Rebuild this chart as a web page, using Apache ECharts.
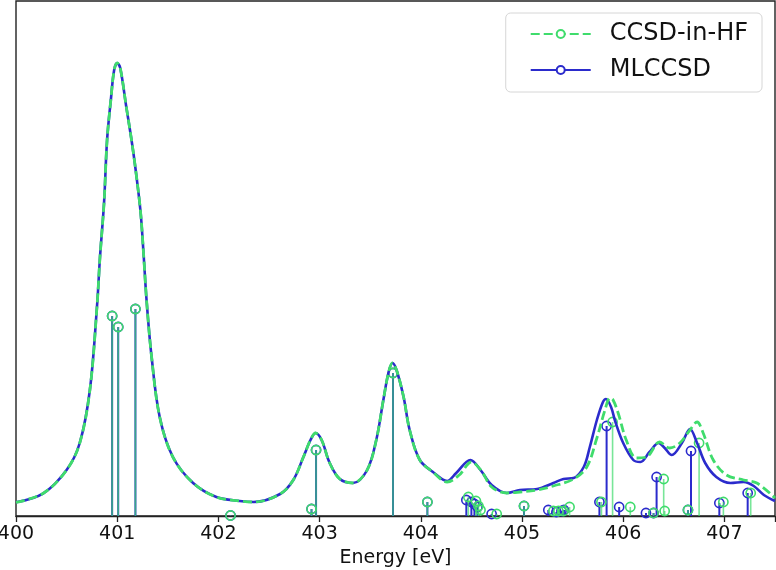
<!DOCTYPE html>
<html>
<head>
<meta charset="utf-8">
<script src="https://cdn.jsdelivr.net/npm/echarts@6/dist/echarts.min.js"></script>
<style>
html,body{margin:0;padding:0;background:#fff;}
#chart{width:776px;height:570px;}
</style>
</head>
<body>
<div id="chart"></div>
<script>
// ---- data (intensities in arbitrary units) ----
const xTicks = [400, 401, 402, 403, 404, 405, 406, 407];

// MLCCSD broadened spectrum
const mlEnergy = [400.00,400.27,400.50,400.63,400.73,400.80,400.83,400.87,400.90,400.94,400.97,401.00,401.03,401.09,401.14,401.18,401.23,401.26,401.29,401.34,401.42,401.55,401.75,401.98,402.21,402.35,402.61,402.74,402.84,402.91,402.96,403.02,403.10,403.20,403.33,403.47,403.56,403.63,403.68,403.72,403.76,403.83,403.89,403.99,404.12,404.26,404.35,404.49,404.59,404.70,404.85,404.98,405.15,405.31,405.41,405.51,405.61,405.67,405.74,405.80,405.83,405.88,405.92,406.00,406.10,406.17,406.26,406.35,406.41,406.48,406.58,406.66,406.73,406.81,406.92,407.06,407.19,407.29,407.39,407.50];
const mlCurve = [0.137,0.227,0.46,0.73,1.26,2.09,2.59,3.13,3.76,4.19,4.46,4.53,4.48,4.09,3.77,3.48,3.05,2.63,2.16,1.59,0.99,0.59,0.33,0.19,0.15,0.14,0.22,0.36,0.59,0.76,0.83,0.76,0.53,0.37,0.33,0.46,0.76,1.16,1.43,1.53,1.46,1.19,0.86,0.56,0.44,0.35,0.43,0.56,0.46,0.31,0.23,0.26,0.27,0.33,0.37,0.38,0.49,0.69,0.96,1.14,1.17,1.09,0.95,0.73,0.56,0.54,0.64,0.73,0.68,0.61,0.73,0.87,0.73,0.53,0.39,0.33,0.34,0.30,0.21,0.15];

// CCSD-in-HF broadened spectrum
const hfEnergy = [400.00,400.27,400.50,400.63,400.73,400.80,400.83,400.87,400.90,400.94,400.97,401.00,401.03,401.09,401.14,401.18,401.23,401.26,401.29,401.34,401.42,401.55,401.75,401.98,402.21,402.35,402.61,402.74,402.84,402.91,402.96,403.02,403.10,403.20,403.33,403.47,403.56,403.63,403.68,403.72,403.76,403.83,403.89,403.99,404.12,404.26,404.38,404.50,404.60,404.70,404.85,404.98,405.15,405.31,405.51,405.64,405.74,405.82,405.87,405.90,405.95,406.03,406.13,406.23,406.36,406.46,406.56,406.66,406.73,406.79,406.89,407.02,407.19,407.32,407.50];
const hfCurve = [0.137,0.227,0.46,0.73,1.26,2.09,2.59,3.13,3.76,4.19,4.46,4.53,4.48,4.09,3.77,3.48,3.05,2.63,2.16,1.59,0.99,0.59,0.33,0.19,0.15,0.14,0.22,0.36,0.59,0.76,0.83,0.76,0.53,0.37,0.33,0.46,0.76,1.16,1.43,1.53,1.46,1.19,0.86,0.56,0.44,0.34,0.41,0.54,0.45,0.29,0.23,0.24,0.26,0.30,0.37,0.49,0.78,1.06,1.18,1.16,1.03,0.76,0.58,0.59,0.74,0.68,0.73,0.86,0.94,0.83,0.56,0.41,0.36,0.33,0.18];

// MLCCSD stick spectrum
const mlStickE = [400.95,401.01,401.18,402.12,402.92,402.965,403.725,404.065,404.45,404.50,404.53,404.56,404.70,405.02,405.26,405.34,405.39,405.415,405.765,405.836,405.96,406.225,406.30,406.33,406.64,406.67,406.95,407.23];
const mlStickI = [2.00,1.89,2.07,0.005,0.07,0.66,1.43,0.14,0.16,0.14,0.12,0.09,0.02,0.10,0.06,0.04,0.05,0.06,0.14,0.90,0.09,0.03,0.03,0.39,0.06,0.65,0.13,0.23];

// CCSD-in-HF stick spectrum
const hfStickE = [400.95,401.01,401.18,402.12,402.92,402.965,403.725,404.065,404.47,404.545,404.57,404.59,404.75,405.02,405.31,405.36,405.41,405.47,405.785,405.895,406.07,406.30,406.40,406.41,406.64,406.75,406.99,407.26];
const hfStickI = [2.00,1.89,2.07,0.005,0.07,0.66,1.43,0.14,0.19,0.15,0.10,0.06,0.02,0.10,0.05,0.05,0.05,0.09,0.14,0.94,0.09,0.03,0.37,0.05,0.06,0.73,0.14,0.23];

const seriesNames = ['CCSD-in-HF', 'MLCCSD'];
// ---- end data ----

const GREEN = '#3fdc6c';
const BLUE = '#2b2bcc';
const FONT = 'DejaVu Sans';

function zip(a, b) { return a.map((v, i) => [v, b[i]]); }

function stickRenderer(color, stemWidth, stemOpacity) {
  return function (params, api) {
    const x = api.value(0), y = api.value(1);
    const p0 = api.coord([x, 0]);
    const p1 = api.coord([x, y]);
    return {
      type: 'group',
      children: [
        { type: 'line', shape: { x1: p0[0], y1: p0[1], x2: p1[0], y2: p1[1] },
          style: { stroke: color, lineWidth: stemWidth, opacity: stemOpacity } },
        { type: 'circle', shape: { cx: p1[0], cy: p1[1], r: 4.6 },
          style: { fill: 'none', stroke: color, lineWidth: 1.6 } }
      ]
    };
  };
}

const chart = echarts.init(document.getElementById('chart'), null, { renderer: 'canvas' });
chart.setOption({
  animation: false,
  backgroundColor: '#fff',
  grid: { left: 16, right: 1, top: 1, bottom: 54, containLabel: false, outerBoundsMode: 'none',
    show: true, borderColor: '#222', borderWidth: 1.4, backgroundColor: 'transparent' },
  xAxis: {
    type: 'value', min: 400, max: 407.5, interval: 1,
    name: 'Energy [eV]', nameLocation: 'middle', nameGap: 31,
    nameTextStyle: { fontFamily: FONT, fontSize: 19, color: '#111' },
    axisLine: { show: true, onZero: false, lineStyle: { color: '#222', width: 1.4 } },
    axisTick: { show: true, length: 6, lineStyle: { color: '#222', width: 1.3 } },
    axisLabel: { fontFamily: FONT, fontSize: 19, color: '#111', margin: 9,
      formatter: v => xTicks.indexOf(v) >= 0 ? String(v) : '' },
    splitLine: { show: false }
  },
  yAxis: {
    type: 'value', min: 0, max: 5.15,
    axisLine: { show: false }, axisTick: { show: false }, axisLabel: { show: false }, splitLine: { show: false }
  },
  legend: {
    orient: 'vertical', right: 14, top: 13,
    data: seriesNames,
    itemWidth: 60, itemHeight: 10, itemGap: 12,
    padding: [9, 14, 10, 24],
    backgroundColor: 'rgba(255,255,255,0.85)', borderColor: '#d6d6d6', borderWidth: 1, borderRadius: 5,
    textStyle: { fontFamily: FONT, fontSize: 24, color: '#111', padding: [0, 0, 0, 14] }
  },
  series: [
    { name: 'MLCCSD-sticks', type: 'custom', data: zip(mlStickE, mlStickI), renderItem: stickRenderer(BLUE, 2, 1), clip: false, z: 2, silent: true },
    { name: 'CCSD-in-HF-sticks', type: 'custom', data: zip(hfStickE, hfStickI), renderItem: stickRenderer(GREEN, 1.6, 0.7), clip: false, z: 3, silent: true },
    { name: 'MLCCSD', type: 'line', data: zip(mlEnergy, mlCurve), smooth: 0.35, showSymbol: false, symbol: 'emptyCircle',
      lineStyle: { color: BLUE, width: 2.6 }, itemStyle: { color: BLUE }, z: 4 },
    { name: 'CCSD-in-HF', type: 'line', data: zip(hfEnergy, hfCurve), smooth: 0.35, showSymbol: false, symbol: 'emptyCircle',
      lineStyle: { color: GREEN, width: 2.8, type: [9, 4] }, itemStyle: { color: GREEN }, z: 5 }
  ]
});
</script>
</body>
</html>
